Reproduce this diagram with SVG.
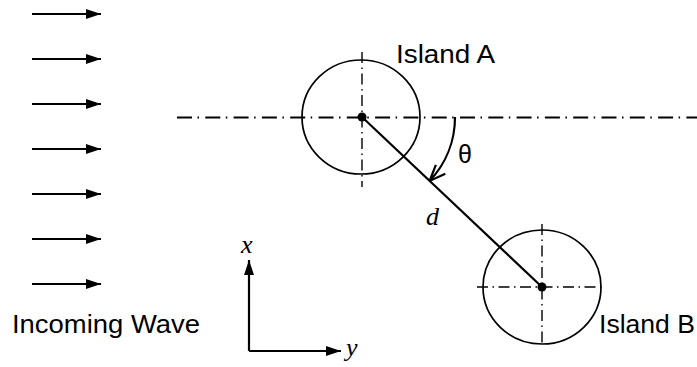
<svg xmlns="http://www.w3.org/2000/svg" width="697" height="367" viewBox="0 0 697 367">
<defs>
<marker id="tri" viewBox="0 0 15 10" refX="15" refY="5" markerWidth="15" markerHeight="10" markerUnits="userSpaceOnUse" orient="auto">
<path d="M0,0 L15,5 L0,10 Z" fill="#000"/>
</marker>
<marker id="vee" viewBox="0 0 18 16" refX="17" refY="8" markerWidth="18" markerHeight="16" markerUnits="userSpaceOnUse" orient="auto">
<path d="M1,1.5 L17,8 L1,14.5" fill="none" stroke="#000" stroke-width="2.2"/>
</marker>
<style>
.lbl{font-family:"Liberation Sans",Arial,sans-serif;font-size:25px;fill:#000}
.var{font-family:"Liberation Serif","Times New Roman",serif;font-style:italic;font-size:26px;fill:#000}
.arr{stroke:#000;stroke-width:2.2;fill:none;marker-end:url(#tri)}
.isl{fill:none;stroke:#000;stroke-width:1.7}
.cl{stroke:#000;stroke-width:2;fill:none;stroke-dasharray:15 5.5 1.5 6.3}
.cv{stroke:#000;stroke-width:1.4;fill:none;stroke-dasharray:11 4.5 1.5 4.5}
.ch{stroke:#000;stroke-width:1.7;fill:none;stroke-dasharray:11 4.5 1.5 4.5}
</style>
</defs>
<g id="incoming-wave">
<line class="arr" x1="32" y1="14" x2="101" y2="14"/>
<line class="arr" x1="32" y1="59" x2="101" y2="59"/>
<line class="arr" x1="32" y1="104" x2="101" y2="104"/>
<line class="arr" x1="32" y1="149" x2="101" y2="149"/>
<line class="arr" x1="32" y1="194" x2="101" y2="194"/>
<line class="arr" x1="32" y1="239" x2="101" y2="239"/>
<line class="arr" x1="32" y1="284" x2="101" y2="284"/>
<text class="lbl" x="12" y="333" textLength="188" lengthAdjust="spacingAndGlyphs">Incoming Wave</text>
</g>
<g id="reference-axis">
<line class="cl" x1="177" y1="117.5" x2="697" y2="117.5"/>
</g>
<g id="island-a">
<ellipse class="isl" cx="361" cy="117" rx="59" ry="57"/>
<line class="cv" x1="362" y1="52" x2="362" y2="187"/>
<circle cx="362" cy="117" r="4.5" fill="#000"/>
<text class="lbl" x="396" y="62.5" textLength="99" lengthAdjust="spacingAndGlyphs">Island A</text>
</g>
<g id="island-b">
<ellipse class="isl" cx="542" cy="287" rx="59" ry="57"/>
<line class="cv" x1="542" y1="224" x2="542" y2="346"/>
<line class="ch" x1="477" y1="287" x2="604" y2="287"/>
<circle cx="542" cy="287" r="4.5" fill="#000"/>
<text class="lbl" x="599" y="333" textLength="96" lengthAdjust="spacingAndGlyphs">Island B</text>
</g>
<g id="coordinate-axes">
<polyline points="249,351 249,260" class="arr"/>
<polyline points="249,351 341,351" class="arr"/>
<text class="var" x="241" y="253">x</text>
<text class="var" x="346" y="356">y</text>
</g>
<g id="connectors">
<line x1="362" y1="117" x2="542" y2="287" stroke="#000" stroke-width="2.2"/>
<path d="M455,117 A93,93 0 0 1 429.6,181" fill="none" stroke="#000" stroke-width="2.2" marker-end="url(#vee)"/>
<text class="lbl" x="458" y="163">θ</text>
<text class="var" x="426" y="225">d</text>
</g>
</svg>
